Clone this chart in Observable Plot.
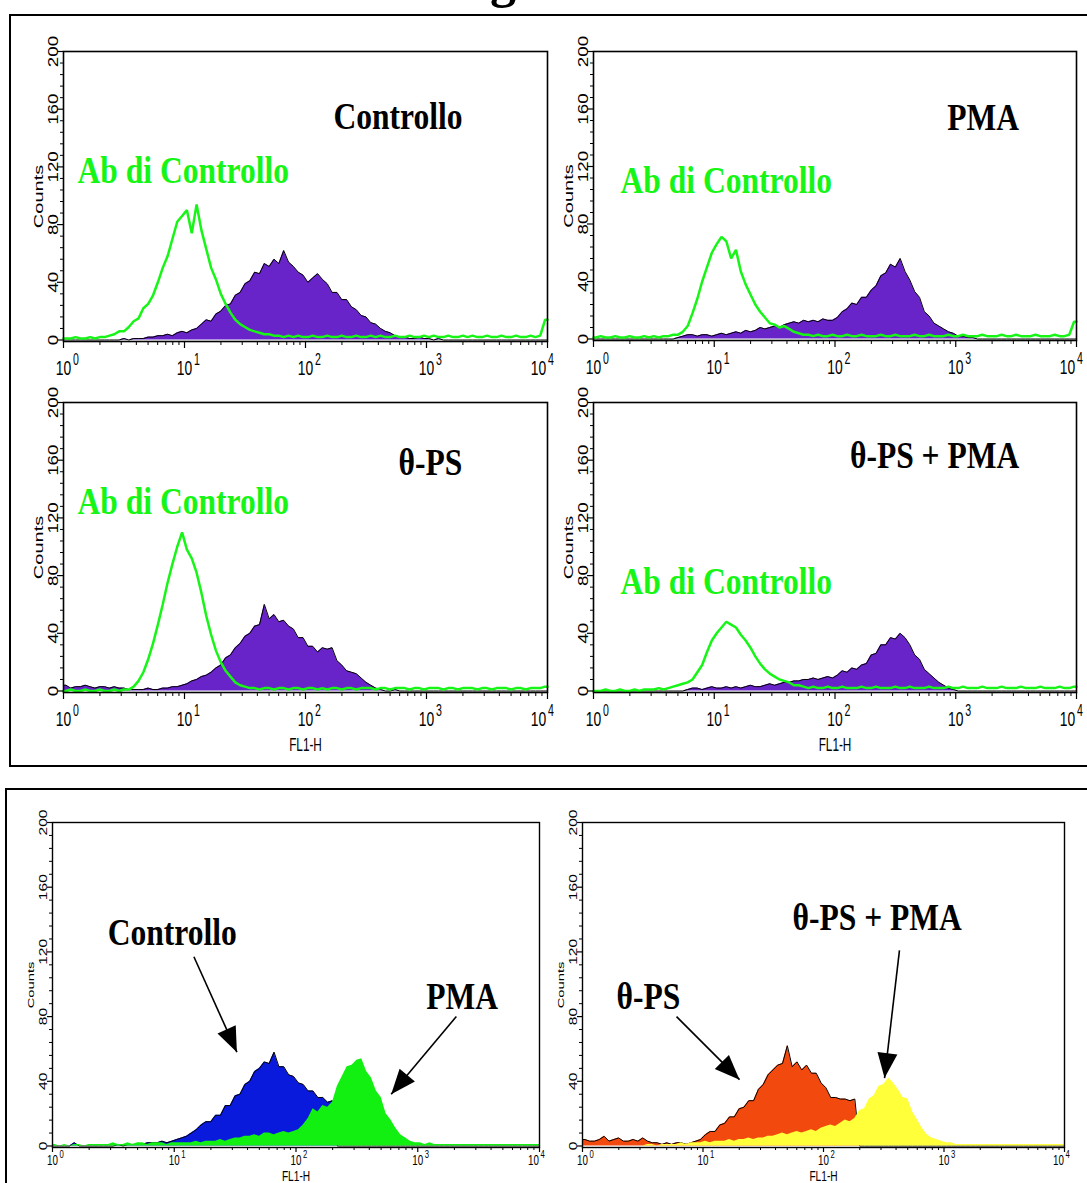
<!DOCTYPE html>
<html><head><meta charset="utf-8">
<script src="https://cdn.jsdelivr.net/npm/d3@7"></script>
<script src="https://cdn.jsdelivr.net/npm/@observablehq/plot@0.6"></script>
<style>
html,body{margin:0;padding:0;background:#fff;}
#root{position:relative;width:1087px;height:1183px;overflow:hidden;background:#fff;}
.frame{position:absolute;border:2px solid #000;box-sizing:border-box;}
#title{position:absolute;left:490px;top:-45px;font-family:"Liberation Serif","Times New Roman",serif;font-weight:bold;font-size:52px;line-height:50px;color:#000;}
</style></head><body><div id="root"><div id="title">g</div><div class="frame" style="left:9px;top:14px;width:1090px;height:753px"></div><div class="frame" style="left:5px;top:788px;width:1095px;height:430px"></div></div>
<script>
// ---------- axis ticks / labels ----------
const decadeTicks = [1, 10, 100, 1000, 10000];
const decadeExponents = ["0", "1", "2", "3", "4"];
const minorTicks = [2,3,4,5,6,7,8,9,20,30,40,50,60,70,80,90,200,300,400,500,600,700,800,900,2000,3000,4000,5000,6000,7000,8000,9000];
const countTicks = [0, 40, 80, 120, 160, 200];
const countMinorTicks = [8,16,24,32,48,56,64,72,88,96,104,112,128,136,144,152,168,176,184,192];
const binWidthLog = 0.04; // each histogram channel spans 0.04 decade

// ---------- histogram counts (100 channels, 10^0 .. 10^4) ----------
const ctrlAb1 = [1,1,2,1,1,2,1,2,2,3, 4,6,6,9,13,15,22,25,31,40, 50,58,70,82,86,90,74,94,76,63, 50,42,32,25,19,14,11,9,7,6, 5,4,4,3,3,2,3,2,3,2, 2,3,2,2,3,2,2,3,2,2, 3,2,2,3,2,3,2,2,3,2, 2,3,2,2,3,2,3,2,2,3, 2,2,3,2,3,2,2,3,2,2, 3,2,2,3,2,2,3,2,3,14];
const controllo1 = [0,0,0,0,0,0,0,0,0,0, 0,0,1,0,1,1,1,2,2,3, 3,4,3,5,6,5,7,8,11,14, 13,18,20,24,25,31,33,39,41,47, 46,53,51,56,53,62,54,51,47,45, 40,43,46,42,39,33,33,28,28,23, 21,17,16,12,11,8,6,5,3,2, 2,1,1,2,1,1,0,1,0,0, 0,0,0,0,0,0,0,0,0,0, 0,0,0,0,0,0,0,0,0,0];
const ctrlAb2 = [1,2,1,1,2,1,1,2,1,1, 2,1,2,1,2,2,3,3,5,9, 18,28,40,50,60,66,71,68,56,62, 47,38,31,24,19,15,11,10,8,9, 7,5,4,3,3,2,3,2,2,3, 2,2,3,2,2,3,2,2,2,3, 2,2,3,2,2,2,3,2,2,3, 2,2,2,3,2,2,3,2,2,2, 3,2,2,2,3,2,2,3,2,2, 2,3,2,2,2,3,2,2,3,12];
const pma2 = [0,0,0,0,0,0,0,0,0,0, 0,0,0,0,0,0,0,1,2,3, 3,2,3,3,2,3,4,3,4,5, 4,6,5,6,8,7,8,9,8,10, 11,12,11,13,12,13,12,14,13,13, 15,19,21,25,24,29,29,34,37,44, 46,52,50,56,47,41,33,29,19,16, 11,9,7,5,4,2,2,1,1,0, 0,0,0,0,0,0,0,0,0,0, 0,0,0,0,0,0,0,0,0,0];
const ctrlAb3 = [0,1,0,0,1,0,0,1,0,0, 1,0,1,1,3,7,13,22,33,46, 60,75,88,100,110,98,92,82,68,52, 39,28,20,14,10,6,4,3,2,2, 1,2,2,1,2,2,1,2,2,1, 2,2,1,2,1,2,2,1,2,2, 1,2,2,2,1,2,2,1,2,2, 2,1,2,2,1,2,2,2,1,2, 2,1,2,2,2,1,2,2,1,2, 2,2,1,2,2,1,2,2,2,3];
const thetaPS3 = [4,2,3,3,4,3,2,3,3,2, 3,2,2,1,1,1,1,2,1,1, 2,2,3,3,4,5,7,8,10,11, 13,16,18,23,25,30,33,38,40,45, 46,60,50,53,48,49,45,43,37,37, 31,31,27,30,29,30,21,18,14,13, 12,9,6,4,2,1,0,0,1,0, 0,0,0,0,0,0,0,0,0,0, 0,0,0,0,0,0,0,0,0,0, 0,0,0,0,0,0,0,0,0,0];
const ctrlAb4 = [0,0,1,0,0,1,0,0,1,0, 1,1,1,2,1,2,3,4,5,6, 8,13,18,27,35,40,44,48,46,44, 39,35,30,24,19,15,12,10,8,7, 6,4,4,3,2,3,2,2,3,2, 2,3,2,2,2,3,2,2,3,2, 2,2,3,2,2,3,2,2,2,3, 2,2,2,3,2,2,3,2,2,2, 3,2,2,2,3,2,2,2,3,2, 2,2,3,2,2,2,3,2,2,3];
const thetaPSPMA4 = [0,0,0,0,0,0,0,0,0,0, 0,0,0,0,0,0,0,0,0,1, 2,2,1,2,3,2,2,3,2,3, 2,3,4,3,3,4,5,4,5,6, 6,7,7,8,8,9,8,9,10,9, 11,14,13,16,15,18,19,25,26,32, 32,37,36,40,37,32,25,22,15,12, 9,6,4,2,1,0,0,0,0,0, 0,0,0,0,0,0,0,0,0,0, 0,0,0,0,0,0,0,0,0,0];
const controllo5 = [0,0,0,0,2,0,0,0,0,0, 0,0,0,1,0,1,1,1,1,2, 2,2,3,2,3,4,5,6,8,10, 13,15,15,19,19,25,25,31,32,38, 40,46,48,52,51,58,49,49,44,43, 39,38,34,34,30,30,27,28,0,0, 0,0,0,0,0,0,0,0,0,0, 0,0,0,0,0,0,0,0,0,0, 0,0,0,0,0,0,0,0,0,0, 0,0,0,0,0,0,0,0,0,0];
const pma5 = [1,0,1,0,1,1,0,1,1,1, 1,1,2,1,1,2,1,2,2,1, 2,2,2,1,2,2,2,2,2,3, 2,3,3,3,4,3,4,5,5,6, 6,7,6,8,8,7,8,9,8,9, 10,13,17,23,21,25,24,27,37,43, 49,50,53,54,46,42,34,30,20,16, 11,7,5,3,2,2,1,2,1,1, 1,1,1,1,1,1,1,1,1,1, 1,1,1,1,1,1,1,1,1,1];
const thetaPS6 = [4,3,3,4,6,3,4,5,3,3, 4,3,5,3,2,2,1,2,1,2, 2,1,2,3,4,7,9,9,13,14, 18,18,23,24,28,28,35,38,44,47, 50,51,62,49,52,47,50,45,45,39, 36,30,30,29,29,28,29,0,0,0, 0,0,0,0,0,0,0,0,0,0, 0,0,0,0,0,0,0,0,0,0, 0,0,0,0,0,0,0,0,0,0, 0,0,0,0,0,0,0,0,0,0];
const thetaPSPMA6 = [0,0,0,0,0,0,0,0,0,0, 0,0,0,1,1,0,1,1,1,1, 2,1,2,2,2,3,2,3,3,3, 4,3,4,4,5,4,5,5,6,6, 7,8,7,8,9,8,9,10,9,11, 12,13,12,14,16,15,17,22,23,29, 31,37,38,42,39,35,30,29,21,16, 11,7,5,4,3,2,2,1,1,1, 1,1,1,1,1,1,1,1,1,1, 1,1,1,1,1,1,1,1,1,1];

// ---------- annotations (data coordinates: FL1-H, Counts) ----------
const labels1 = [{text: "Controllo", x: 170, y: 155, color: "#000"}, {text: "Ab di Controllo", x: 1.305, y: 117, color: "#17f517"}];
const labels2 = [{text: "PMA", x: 850, y: 154, color: "#000"}, {text: "Ab di Controllo", x: 1.675, y: 110, color: "#17f517"}];
const labels3 = [{text: "θ-PS", x: 587, y: 158, color: "#000"}, {text: "Ab di Controllo", x: 1.305, y: 131, color: "#17f517"}];
const labels4 = [{text: "θ-PS + PMA", x: 133, y: 163, color: "#000"}, {text: "Ab di Controllo", x: 1.675, y: 76, color: "#17f517"}];
const labels5 = [{text: "Controllo", x: 2.84, y: 132, color: "#000"}, {text: "PMA", x: 1175, y: 92, color: "#000"}];
const labels6 = [{text: "θ-PS + PMA", x: 55.3, y: 141, color: "#000"}, {text: "θ-PS", x: 1.915, y: 92, color: "#000"}];
const arrows5 = [{x1: 14.5, y1: 117, x2: 32.7, y2: 58}, {x1: 2075, y1: 80, x2: 605, y2: 32}];
const arrows6 = [{x1: 6.03, y1: 80, x2: 20.1, y2: 41}, {x1: 427, y1: 121, x2: 321, y2: 42}];

// ---------- styling ----------
const SANS = "'Liberation Sans', Arial, Helvetica, sans-serif";
const SERIF = "'Liberation Serif', 'Times New Roman', serif";
const PURPLE = "#6824c8", GREEN = "#17f517", BLUE = "#0a1adc", GREENFILL = "#12f012", ORANGE = "#f24a0e", YELLOW = "#ffff3a";

// font sizes must be unique inside one panel (used to find the texts to condense)
const topStyle = {yTick: 6, yMinor: 3, xTick: 7, xMinor: 4, yLabFont: 15, yStretch: 1.25, yLabDx: -6,
  countsFont: 12.5, countsStretch: 1.6, countsDx: -21, xLabFont: 21, xSquash: 0.66, xLabDy: 19, lastDx: -9,
  expFont: 16, expSquash: 0.66, expDy: 12, expDx: 9.5, fl1Font: 19, fl1Squash: 0.62, fl1Dy: 52, annFont: 38, annSquash: 0.83, frameWidth: 1.6};
const botStyle = {yTick: 5, yMinor: 3, xTick: 5, xMinor: 3, yLabFont: 11.5, yStretch: 1.35, yLabDx: -6,
  countsFont: 9.5, countsStretch: 1.55, countsDx: -19, xLabFont: 14, xSquash: 0.7, xLabDy: 8, lastDx: -6,
  expFont: 11, expSquash: 0.7, expDy: 3, expDx: 7, fl1Font: 14.5, fl1Squash: 0.7, fl1Dy: 29, annFont: 38, annSquash: 0.83, frameWidth: 1.4};

const root = document.getElementById("root");

// channel centres, plus the two ends of the axis
function toBins(values) {
  const out = values.map((c, i) => ({x: Math.pow(10, (i + 0.5) * binWidthLog), y: c}));
  out.unshift({x: 1, y: values[0]});
  out.push({x: 10000, y: values[values.length - 1]});
  return out;
}

function arrowHead() {
  const m = d3.create("svg:marker")
    .attr("viewBox", "-26 -11 28 22")
    .attr("markerWidth", 28).attr("markerHeight", 22)
    .attr("markerUnits", "userSpaceOnUse")
    .attr("orient", "auto")
    .attr("fill", "#000").attr("stroke", "none");
  m.append("path").attr("d", "M-25,-10L0,0L-25,10Z");
  return m.node();
}

// condense / stretch glyphs of the texts drawn with a given font size
function fitText(svg, fontSize, factor) {
  svg.querySelectorAll(`g[font-size="${fontSize}"] text`).forEach(t => {
    const L = t.getComputedTextLength();
    if (L > 0) {
      t.setAttribute("textLength", (L * factor).toFixed(2));
      t.setAttribute("lengthAdjust", "spacingAndGlyphs");
    }
  });
}

function decadeLabels(ticks, st, dx) {
  return [
    Plot.text(ticks, {x: d => d, text: () => "10", frameAnchor: "bottom", dy: st.xLabDy, dx, lineAnchor: "top",
      textAnchor: "middle", fontSize: st.xLabFont, fontFamily: SANS, fill: "#000"}),
    Plot.text(ticks, {x: d => d, text: d => decadeExponents[decadeTicks.indexOf(d)], frameAnchor: "bottom", dy: st.expDy, dx: dx + st.expDx,
      lineAnchor: "top", textAnchor: "start", fontSize: st.expFont, fontFamily: SANS, fill: "#000"})
  ];
}

function drawPanel(cfg) {
  const st = cfg.style;
  const mL = 70, mR = 14, mT = 14, mB = 70;
  const w = cfg.right - cfg.left, h = cfg.bottom - cfg.top;
  const marks = [];
  for (const layer of cfg.layers) {
    const data = toBins(layer.values);
    if (layer.fill) marks.push(Plot.areaY(data, {x: "x", y: "y", curve: "linear", fill: layer.fill}));
    if (layer.stroke) marks.push(Plot.lineY(data, {x: "x", y: "y", curve: "linear", stroke: layer.stroke, strokeWidth: layer.strokeWidth, strokeLinejoin: "miter"}));
  }
  marks.push(Plot.frame({stroke: "#000", strokeWidth: st.frameWidth}));
  marks.push(Plot.axisY({ticks: countTicks, tickSize: st.yTick, tickFormat: () => "", label: null, strokeWidth: 1.2}));
  marks.push(Plot.axisY({ticks: countMinorTicks, tickSize: st.yMinor, tickFormat: () => "", label: null, strokeWidth: 1}));
  marks.push(Plot.axisX({ticks: decadeTicks, tickSize: st.xTick, tickFormat: () => "", label: null, strokeWidth: 1.2}));
  marks.push(Plot.axisX({ticks: minorTicks, tickSize: st.xMinor, tickFormat: () => "", label: null, strokeWidth: 1}));
  marks.push(Plot.text(countTicks, {y: d => d, text: d => String(d), frameAnchor: "left", dx: st.yLabDx, rotate: -90,
    textAnchor: "middle", lineAnchor: "bottom", fontSize: st.yLabFont, fontFamily: SANS, fill: "#000"}));
  marks.push(Plot.text(["Counts"], {text: d => d, frameAnchor: "left", dx: st.countsDx, rotate: -90,
    textAnchor: "middle", lineAnchor: "bottom", fontSize: st.countsFont, fontFamily: SANS, fill: "#000"}));
  marks.push(...decadeLabels(decadeTicks.slice(0, -1), st, 0));
  marks.push(...decadeLabels(decadeTicks.slice(-1), st, st.lastDx));
  if (cfg.xTitle) marks.push(Plot.text([cfg.xTitle], {text: d => d, frameAnchor: "bottom", dy: st.fl1Dy, lineAnchor: "middle",
    textAnchor: "middle", fontSize: st.fl1Font, fontFamily: SANS, fill: "#000"}));
  for (const l of cfg.labels) marks.push(Plot.text([l], {x: "x", y: "y", text: "text", fill: l.color, fontFamily: SERIF,
    fontWeight: "bold", fontSize: st.annFont, textAnchor: "start", lineAnchor: "middle"}));
  if (cfg.arrows) marks.push(Plot.link(cfg.arrows, {x1: "x1", y1: "y1", x2: "x2", y2: "y2", stroke: "#000", strokeWidth: 1.6, markerEnd: arrowHead}));

  const svg = Plot.plot({
    width: w + mL + mR, height: h + mT + mB,
    marginLeft: mL, marginRight: mR, marginTop: mT, marginBottom: mB,
    style: {background: "transparent", overflow: "visible", position: "absolute", left: (cfg.left - mL) + "px", top: (cfg.top - mT) + "px", maxWidth: "none"},
    x: {type: "log", domain: [1, 10000], axis: null},
    y: {domain: [0, 200], axis: null, insetBottom: 1.5},
    marks
  });
  root.appendChild(svg);
  fitText(svg, st.xLabFont, st.xSquash);
  fitText(svg, st.expFont, st.expSquash);
  fitText(svg, st.fl1Font, st.fl1Squash);
  fitText(svg, st.annFont, st.annSquash);
  fitText(svg, st.yLabFont, st.yStretch);
  fitText(svg, st.countsFont, st.countsStretch);
}

drawPanel({left: 63, right: 547, top: 51, bottom: 341, style: topStyle, labels: labels1,
  layers: [{values: controllo1, fill: PURPLE, stroke: "#000", strokeWidth: 1}, {values: ctrlAb1, stroke: GREEN, strokeWidth: 2.5}]});
drawPanel({left: 593, right: 1076, top: 51, bottom: 340, style: topStyle, labels: labels2,
  layers: [{values: pma2, fill: PURPLE, stroke: "#000", strokeWidth: 1}, {values: ctrlAb2, stroke: GREEN, strokeWidth: 2.5}]});
drawPanel({left: 63, right: 547, top: 402, bottom: 692, style: topStyle, labels: labels3, xTitle: "FL1-H",
  layers: [{values: thetaPS3, fill: PURPLE, stroke: "#000", strokeWidth: 1}, {values: ctrlAb3, stroke: GREEN, strokeWidth: 2.5}]});
drawPanel({left: 593, right: 1076, top: 402, bottom: 692, style: topStyle, labels: labels4, xTitle: "FL1-H",
  layers: [{values: thetaPSPMA4, fill: PURPLE, stroke: "#000", strokeWidth: 1}, {values: ctrlAb4, stroke: GREEN, strokeWidth: 2.5}]});
drawPanel({left: 52, right: 539, top: 822, bottom: 1147, style: botStyle, labels: labels5, arrows: arrows5, xTitle: "FL1-H",
  layers: [{values: controllo5, fill: BLUE, stroke: "#000", strokeWidth: 1}, {values: pma5, fill: GREENFILL}]});
drawPanel({left: 582, right: 1064, top: 822, bottom: 1147, style: botStyle, labels: labels6, arrows: arrows6, xTitle: "FL1-H",
  layers: [{values: thetaPS6, fill: ORANGE, stroke: "#000", strokeWidth: 1}, {values: thetaPSPMA6, fill: YELLOW}]});
</script></body></html>
